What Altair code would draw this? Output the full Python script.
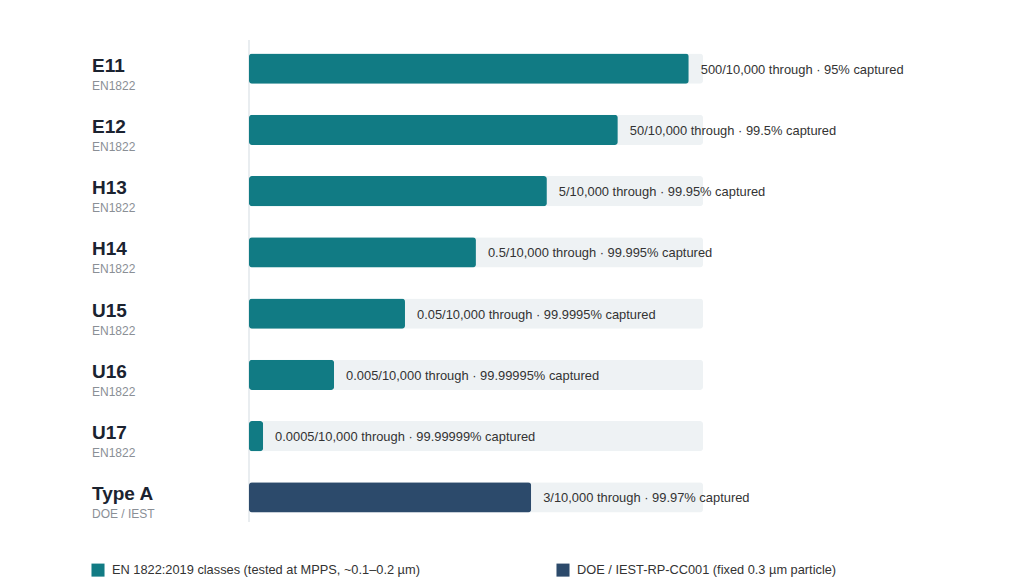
import altair as alt
import pandas as pd

# Filter classes, their standard, and penetration per 10,000 particles
classes = ["E11", "E12", "H13", "H14", "U15", "U16", "U17", "Type A"]
sources = ["EN1822", "EN1822", "EN1822", "EN1822", "EN1822", "EN1822", "EN1822", "DOE / IEST"]
penetration = [500, 50, 5, 0.5, 0.05, 0.005, 0.0005, 3]
captured = ["95%", "99.5%", "99.95%", "99.995%", "99.9995%", "99.99995%", "99.99999%", "99.97%"]
standards = [
    "EN 1822:2019 classes (tested at MPPS, ~0.1–0.2 µm)",
    "EN 1822:2019 classes (tested at MPPS, ~0.1–0.2 µm)",
    "EN 1822:2019 classes (tested at MPPS, ~0.1–0.2 µm)",
    "EN 1822:2019 classes (tested at MPPS, ~0.1–0.2 µm)",
    "EN 1822:2019 classes (tested at MPPS, ~0.1–0.2 µm)",
    "EN 1822:2019 classes (tested at MPPS, ~0.1–0.2 µm)",
    "EN 1822:2019 classes (tested at MPPS, ~0.1–0.2 µm)",
    "DOE / IEST-RP-CC001 (fixed 0.3 µm particle)",
]
legend_order = [
    "EN 1822:2019 classes (tested at MPPS, ~0.1–0.2 µm)",
    "DOE / IEST-RP-CC001 (fixed 0.3 µm particle)",
]
palette = ["#117b84", "#2c4a6b"]

# Log-scaled length: one unit per decade of penetration
OFFSET = 3.5
TRACK = 6.4

df = pd.DataFrame({
    "cls": classes,
    "src": sources,
    "pen": penetration,
    "std": standards,
    "label": [f"{p:g}/10,000 through · {c} captured" for p, c in zip(penetration, captured)],
})
df["track"] = TRACK

FONT = "Liberation Sans"

y = alt.Y("cls:N", sort=classes, axis=None,
          scale=alt.Scale(paddingInner=0.51, paddingOuter=0.255))
xs = alt.Scale(domain=[0, TRACK], range=[0, 454], nice=False, zero=True)

base = alt.Chart(df)

track = base.mark_bar(color="#eef2f4", cornerRadius=3).encode(
    x=alt.X("track:Q", scale=xs, axis=None), y=y
)

bars = base.transform_calculate(
    length=f"log(datum.pen) / LN10 + {OFFSET}"
).mark_bar(cornerRadius=3).encode(
    x=alt.X("length:Q", scale=xs, axis=None),
    y=y,
    color=alt.Color(
        "std:N",
        scale=alt.Scale(domain=legend_order, range=palette),
        legend=alt.Legend(
            title=None, orient="none", direction="horizontal",
            legendX=-158, legendY=525, symbolType="square", symbolSize=170,
            symbolStrokeWidth=0, labelFont=FONT, labelFontSize=12.8, labelColor="#333333",
            labelLimit=400, columnPadding=136, labelOffset=7,
        ),
    ),
)

values = base.transform_calculate(
    length=f"log(datum.pen) / LN10 + {OFFSET}"
).mark_text(align="left", baseline="middle", dx=12, dy=1, font=FONT, fontSize=12.9,
            color="#333333").encode(
    x=alt.X("length:Q", scale=xs, axis=None), y=y, text="label:N"
)

names = base.mark_text(align="left", baseline="middle", dy=-3, font=FONT, fontSize=19,
                       fontWeight="bold", color="#1b2330").encode(
    x=alt.value(-157), y=y, text="cls:N"
)

subs = base.mark_text(align="left", baseline="middle", dy=17, font=FONT, fontSize=12,
                      color="#8a8f96").encode(
    x=alt.value(-157), y=y, text="src:N"
)

axis_line = alt.Chart(pd.DataFrame({"v": [0]})).mark_rule(color="#d3dbe1", strokeWidth=1).encode(
    x=alt.value(0), y=alt.value(2), y2=alt.value(484)
)

chart = alt.layer(axis_line, track, bars, values, names, subs).properties(
    width=454, height=490,
    autosize=alt.AutoSizeParams(type="none"),
    padding={"left": 249, "top": 38, "right": 321, "bottom": 58},
    background="white",
).configure_view(strokeWidth=0, stroke=None)

chart.save("out.html", embed_options={"renderer": "svg", "actions": False})
